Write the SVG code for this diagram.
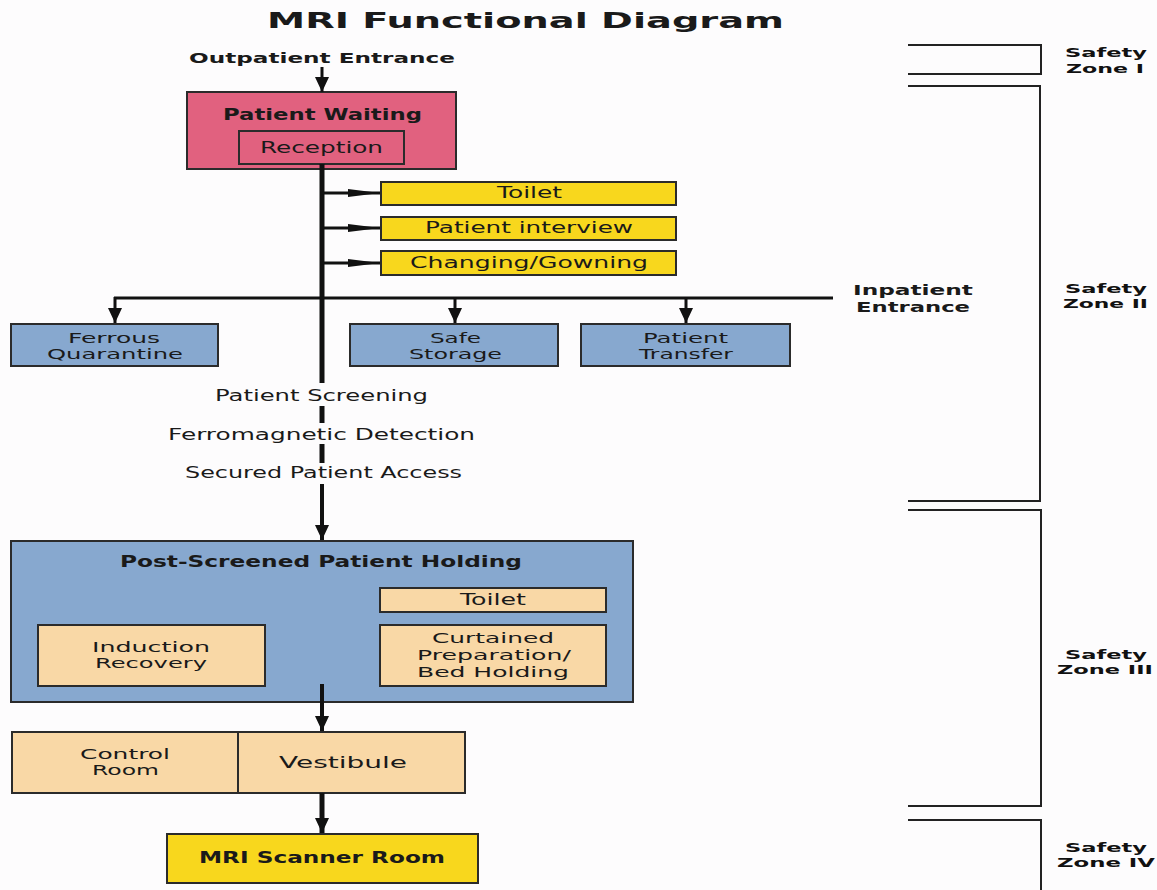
<svg xmlns="http://www.w3.org/2000/svg" width="1157" height="890" viewBox="0 0 1157 890">
<defs>
<style>
text{font-family:"DejaVu Sans","Liberation Sans",sans-serif;fill:#1a1a1a}
.b{font-weight:bold}
.r{font-size:16px}
.r2{font-size:13.5px}
.h{font-size:16px;font-weight:bold}
.z{font-size:12.5px;font-weight:bold;fill:#111}
.box{stroke:#2b2b2b;stroke-width:2}
.pink{fill:#e1617f}
.yel{fill:#f8d71d}
.blue{fill:#87a8cf}
.peach{fill:#f9d8a6}
.ln{stroke:#111;fill:none}
.br{stroke:#222;stroke-width:2;fill:none}
</style>
<marker id="ad" markerUnits="userSpaceOnUse" markerWidth="14" markerHeight="16" refX="15" refY="7" orient="auto">
<path d="M0,0 L15,7 L0,14 z" fill="#111"/>
</marker>
<marker id="as" markerUnits="userSpaceOnUse" markerWidth="32" markerHeight="10" refX="32" refY="4" orient="auto">
<path d="M0,0 L32,4 L0,8 z" fill="#111"/>
</marker>
</defs>
<rect width="1157" height="890" fill="#fdfcfd"/>

<text x="267" y="28" class="b" font-size="22" textLength="517" lengthAdjust="spacingAndGlyphs">MRI Functional Diagram</text>

<g id="outpatient-entrance">
<text x="189" y="63" class="b" font-size="14" textLength="266" lengthAdjust="spacingAndGlyphs">Outpatient Entrance</text>
</g>

<g id="patient-waiting">
<rect x="187" y="92" width="269" height="77" class="box pink"/>
<text x="223" y="120" class="h" textLength="199" lengthAdjust="spacingAndGlyphs">Patient Waiting</text>
</g>
<g id="reception">
<rect x="239" y="131" width="165" height="33" class="box pink"/>
<text x="260" y="153" class="r" textLength="123" lengthAdjust="spacingAndGlyphs">Reception</text>
</g>

<g id="toilet-1">
<rect x="381" y="182" width="295" height="23" class="box yel"/>
<text x="497" y="198" class="r" textLength="65" lengthAdjust="spacingAndGlyphs">Toilet</text>
</g>
<g id="patient-interview">
<rect x="381" y="217" width="295" height="23" class="box yel"/>
<text x="425" y="233" class="r" textLength="208" lengthAdjust="spacingAndGlyphs">Patient interview</text>
</g>
<g id="changing-gowning">
<rect x="381" y="251" width="295" height="24" class="box yel"/>
<text x="410" y="268" class="r" textLength="238" lengthAdjust="spacingAndGlyphs">Changing/Gowning</text>
</g>

<g id="inpatient-entrance">
<text x="853" y="295" class="b" font-size="13.5" textLength="120" lengthAdjust="spacingAndGlyphs">Inpatient</text>
<text x="856" y="312" class="b" font-size="13.5" textLength="114" lengthAdjust="spacingAndGlyphs">Entrance</text>
</g>

<g id="ferrous-quarantine">
<rect x="11" y="324" width="207" height="42" class="box blue"/>
<text x="68" y="343" class="r2" textLength="92" lengthAdjust="spacingAndGlyphs">Ferrous</text>
<text x="47" y="359" class="r2" textLength="136" lengthAdjust="spacingAndGlyphs">Quarantine</text>
</g>
<g id="safe-storage">
<rect x="350" y="324" width="208" height="42" class="box blue"/>
<text x="430" y="343" class="r2" textLength="51" lengthAdjust="spacingAndGlyphs">Safe</text>
<text x="409" y="359" class="r2" textLength="93" lengthAdjust="spacingAndGlyphs">Storage</text>
</g>
<g id="patient-transfer">
<rect x="581" y="324" width="209" height="42" class="box blue"/>
<text x="643" y="343" class="r2" textLength="85" lengthAdjust="spacingAndGlyphs">Patient</text>
<text x="639" y="359" class="r2" textLength="94" lengthAdjust="spacingAndGlyphs">Transfer</text>
</g>

<g id="screening-steps">
<text x="215" y="401" class="r" textLength="213" lengthAdjust="spacingAndGlyphs">Patient Screening</text>
<text x="168" y="440" class="r" textLength="307" lengthAdjust="spacingAndGlyphs">Ferromagnetic Detection</text>
<text x="185" y="478" class="r" textLength="277" lengthAdjust="spacingAndGlyphs">Secured Patient Access</text>
</g>

<g id="post-screened-holding">
<rect x="11" y="541" width="622" height="161" class="box blue"/>
<text x="120" y="567" class="h" textLength="402" lengthAdjust="spacingAndGlyphs">Post-Screened Patient Holding</text>
</g>
<g id="toilet-2">
<rect x="380" y="588" width="226" height="24" class="box peach"/>
<text x="460" y="605" class="r" textLength="66" lengthAdjust="spacingAndGlyphs">Toilet</text>
</g>
<g id="induction-recovery">
<rect x="38" y="625" width="227" height="61" class="box peach"/>
<text x="92" y="652" class="r2" textLength="118" lengthAdjust="spacingAndGlyphs">Induction</text>
<text x="95" y="668" class="r2" textLength="112" lengthAdjust="spacingAndGlyphs">Recovery</text>
</g>
<g id="curtained-preparation">
<rect x="380" y="625" width="226" height="61" class="box peach"/>
<text x="432" y="643" class="r2" textLength="122" lengthAdjust="spacingAndGlyphs">Curtained</text>
<text x="417" y="660" class="r2" textLength="154" lengthAdjust="spacingAndGlyphs">Preparation/</text>
<text x="417" y="677" class="r2" textLength="152" lengthAdjust="spacingAndGlyphs">Bed Holding</text>
</g>

<g id="control-room">
<rect x="12" y="732" width="226" height="61" class="box peach"/>
<text x="80" y="759" class="r2" textLength="90" lengthAdjust="spacingAndGlyphs">Control</text>
<text x="92" y="775" class="r2" textLength="67" lengthAdjust="spacingAndGlyphs">Room</text>
</g>
<g id="vestibule">
<rect x="238" y="732" width="227" height="61" class="box peach"/>
<text x="279" y="768" class="r" textLength="128" lengthAdjust="spacingAndGlyphs">Vestibule</text>
</g>

<g id="mri-scanner-room">
<rect x="167" y="834" width="311" height="49" class="box yel"/>
<text x="199" y="863" class="h" textLength="246" lengthAdjust="spacingAndGlyphs">MRI Scanner Room</text>
</g>

<g id="connectors">
<line x1="322" y1="67" x2="322" y2="92" class="ln" stroke-width="3" marker-end="url(#ad)"/>
<line x1="322" y1="164" x2="322" y2="383" class="ln" stroke-width="5"/>
<line x1="322" y1="193" x2="380" y2="193" class="ln" stroke-width="3" marker-end="url(#as)"/>
<line x1="322" y1="228" x2="380" y2="228" class="ln" stroke-width="3" marker-end="url(#as)"/>
<line x1="322" y1="263" x2="380" y2="263" class="ln" stroke-width="3" marker-end="url(#as)"/>
<line x1="114" y1="298" x2="833" y2="298" class="ln" stroke-width="3"/>
<line x1="115" y1="297" x2="115" y2="323" class="ln" stroke-width="3" marker-end="url(#ad)"/>
<line x1="455" y1="297" x2="455" y2="323" class="ln" stroke-width="3" marker-end="url(#ad)"/>
<line x1="686" y1="297" x2="686" y2="323" class="ln" stroke-width="3" marker-end="url(#ad)"/>
<line x1="322" y1="406" x2="322" y2="423" class="ln" stroke-width="5"/>
<line x1="322" y1="444" x2="322" y2="463" class="ln" stroke-width="5"/>
<line x1="322" y1="484" x2="322" y2="540" class="ln" stroke-width="4" marker-end="url(#ad)"/>
<line x1="322" y1="684" x2="322" y2="731" class="ln" stroke-width="4" marker-end="url(#ad)"/>
<line x1="322" y1="793" x2="322" y2="833" class="ln" stroke-width="5" marker-end="url(#ad)"/>
</g>

<g id="zone-brackets">
<path d="M908,45 H1041 V74 H908" class="br"/>
<path d="M908,86 H1040 V501 H908" class="br"/>
<path d="M908,510 H1041 V806 H908" class="br"/>
<path d="M908,820 H1041 V890" class="br"/>
</g>

<g id="zone-labels">
<text x="1065" y="57" class="z" textLength="82" lengthAdjust="spacingAndGlyphs">Safety</text>
<text x="1066" y="73" class="z" textLength="78" lengthAdjust="spacingAndGlyphs">Zone I</text>
<text x="1065" y="293" class="z" textLength="82" lengthAdjust="spacingAndGlyphs">Safety</text>
<text x="1063" y="308" class="z" textLength="85" lengthAdjust="spacingAndGlyphs">Zone II</text>
<text x="1065" y="659" class="z" textLength="82" lengthAdjust="spacingAndGlyphs">Safety</text>
<text x="1057" y="674" class="z" textLength="96" lengthAdjust="spacingAndGlyphs">Zone III</text>
<text x="1065" y="852" class="z" textLength="82" lengthAdjust="spacingAndGlyphs">Safety</text>
<text x="1057" y="867" class="z" textLength="98" lengthAdjust="spacingAndGlyphs">Zone IV</text>
</g>
</svg>
